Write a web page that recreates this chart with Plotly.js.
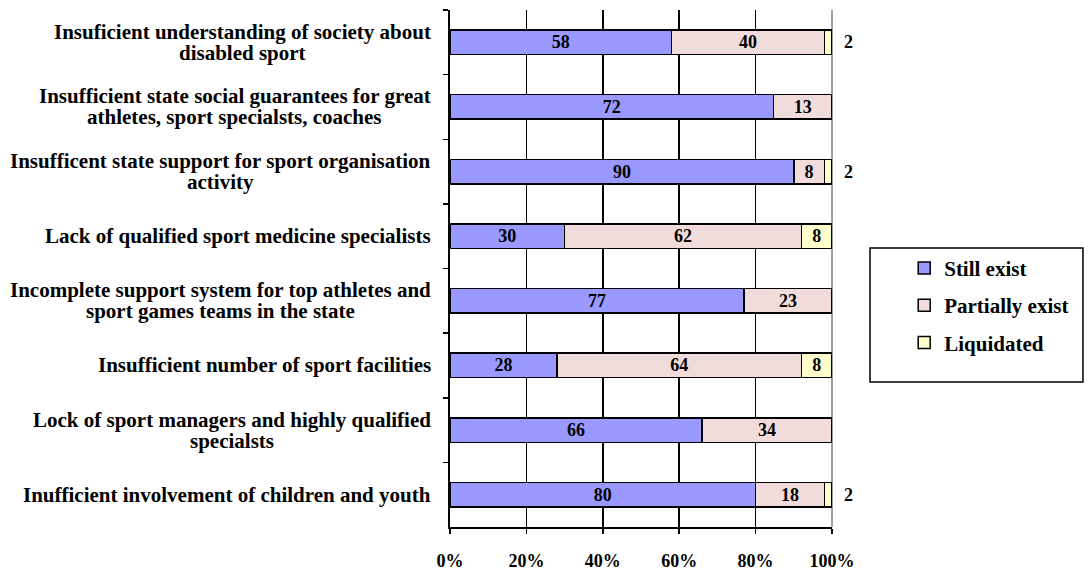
<!DOCTYPE html>
<html>
<head>
<meta charset="utf-8">
<script src="https://cdn.plot.ly/plotly-3.0.1.min.js"></script>
<style>html,body{margin:0;padding:0;background:#fff;}#chart{width:1090px;height:572px;}</style>
</head>
<body>
<div id="chart"></div>
<script>
const categoryLines = [
  ["Insuficient understanding of society about", "disabled sport"],
  ["Insufficient state social guarantees for great", "athletes, sport specialsts, coaches"],
  ["Insufficent state support for sport organisation", "activity"],
  ["Lack of qualified sport medicine specialists"],
  ["Incomplete support system for top athletes and", "sport games teams in the state"],
  ["Insufficient number of sport facilities"],
  ["Lock of sport managers and highly qualified", "specialsts"],
  ["Inufficient involvement of children and youth"]
];
const categories = categoryLines.map(l => l.join(" "));
const seriesNames = ["Still exist", "Partially exist", "Liquidated"];
const stillExist = [58, 72, 90, 30, 77, 28, 66, 80];
const partiallyExist = [40, 13, 8, 62, 23, 64, 34, 18];
const liquidated = [2, null, 2, 8, null, 8, null, 2];
const xTicks = [0, 20, 40, 60, 80, 100];
const xTickLabels = ["0%", "20%", "40%", "60%", "80%", "100%"];

const colors = ["#9999FF", "#F2DCDB", "#FFFFCC"];
const FONT = "Liberation Serif, Times New Roman, serif";
const NB = "\u00a0\u00a0";

const seriesData = [stillExist, partiallyExist, liquidated];

const traces = seriesData.map((vals, i) => {
  const small = vals.map(v => v !== null && i === 2 && v < 5);
  return {
    type: "bar",
    orientation: "h",
    name: seriesNames[i],
    legendgroup: "g" + i,
    y: categories,
    x: vals,
    text: vals.map((v, k) => v === null ? "" : (small[k] ? NB + v : String(v))),
    textposition: small.map(s => s ? "outside" : "inside"),
    insidetextanchor: "middle",
    textangle: 0,
    constraintext: "none",
    textfont: {family: FONT, size: 18, color: "#000", weight: "bold"},
    cliponaxis: false,
    marker: {color: colors[i], line: {color: "#000", width: 1.5}},
    hoverinfo: "skip"
  };
});

const LINE_H = 21;
const annotations = [];
categoryLines.forEach((lines, ci) => {
  const n = lines.length;
  lines.forEach((ln, j) => {
    annotations.push({
      xref: "paper", yref: "y", x: 0, y: categories[ci], xanchor: "right", yanchor: "middle",
      xshift: -17, yshift: ((n - 1) / 2 - j) * LINE_H,
      text: "<b>" + ln + "</b>", showarrow: false, align: "center",
      font: {family: FONT, size: 21, color: "#000"}
    });
  });
});

// Center the lines of each label block
const cv = document.createElement("canvas").getContext("2d");
cv.font = "bold 21px 'Liberation Serif'";
let ai = 0;
categoryLines.forEach(lines => {
  const widths = lines.map(l => cv.measureText(l).width);
  const maxW = Math.max.apply(null, widths);
  lines.forEach((l, j) => {
    annotations[ai].xshift = -17 - (maxW - widths[j]) / 2;
    ai++;
  });
});

const layout = {
  width: 1090, height: 572,
  margin: {l: 450, r: 258, t: 10, b: 45},
  paper_bgcolor: "#fff", plot_bgcolor: "#fff",
  barmode: "stack", barnorm: "percent", bargap: 0.62,
  showlegend: true,
  font: {family: FONT, color: "#000"},
  xaxis: {
    range: [0, 100], tickvals: xTicks, ticktext: xTickLabels,
    showgrid: true, gridcolor: "#000", gridwidth: 1.5, zeroline: false,
    showline: true, linecolor: "#000", linewidth: 1.5,
    ticks: "outside", ticklen: 5, tickwidth: 1.5, tickcolor: "#000",
    ticklabelstandoff: 12,
    tickfont: {family: FONT, size: 18, color: "#000", weight: "bold"},
    fixedrange: true
  },
  yaxis: {
    type: "category", autorange: "reversed",
    showticklabels: false, showgrid: false, zeroline: false,
    showline: true, linecolor: "#000", linewidth: 2,
    ticks: "outside", tickson: "boundaries", ticklen: 5, tickwidth: 1.5, tickcolor: "#000",
    fixedrange: true
  },
  legend: {
    x: 1.189, xanchor: "left", y: 0.54, yanchor: "top",
    bgcolor: "rgba(0,0,0,0)", borderwidth: 0,
    tracegroupgap: 7,
    font: {family: FONT, size: 21, color: "#000", weight: "bold"}
  },
  shapes: [
    {type: "rect", xref: "paper", yref: "paper", x0: 1.0995, x1: 1.657, y0: 0.2805, y1: 0.5397,
     line: {color: "#000", width: 1.5}, fillcolor: "rgba(0,0,0,0)"},
    {type: "line", xref: "paper", yref: "paper", x0: 1, x1: 1, y0: 0, y1: 1,
     line: {color: "#808080", width: 1.5}, layer: "below"}
  ],
  annotations: annotations
};

Plotly.newPlot("chart", traces, layout, {displayModeBar: false, staticPlot: true});
</script>
</body>
</html>
